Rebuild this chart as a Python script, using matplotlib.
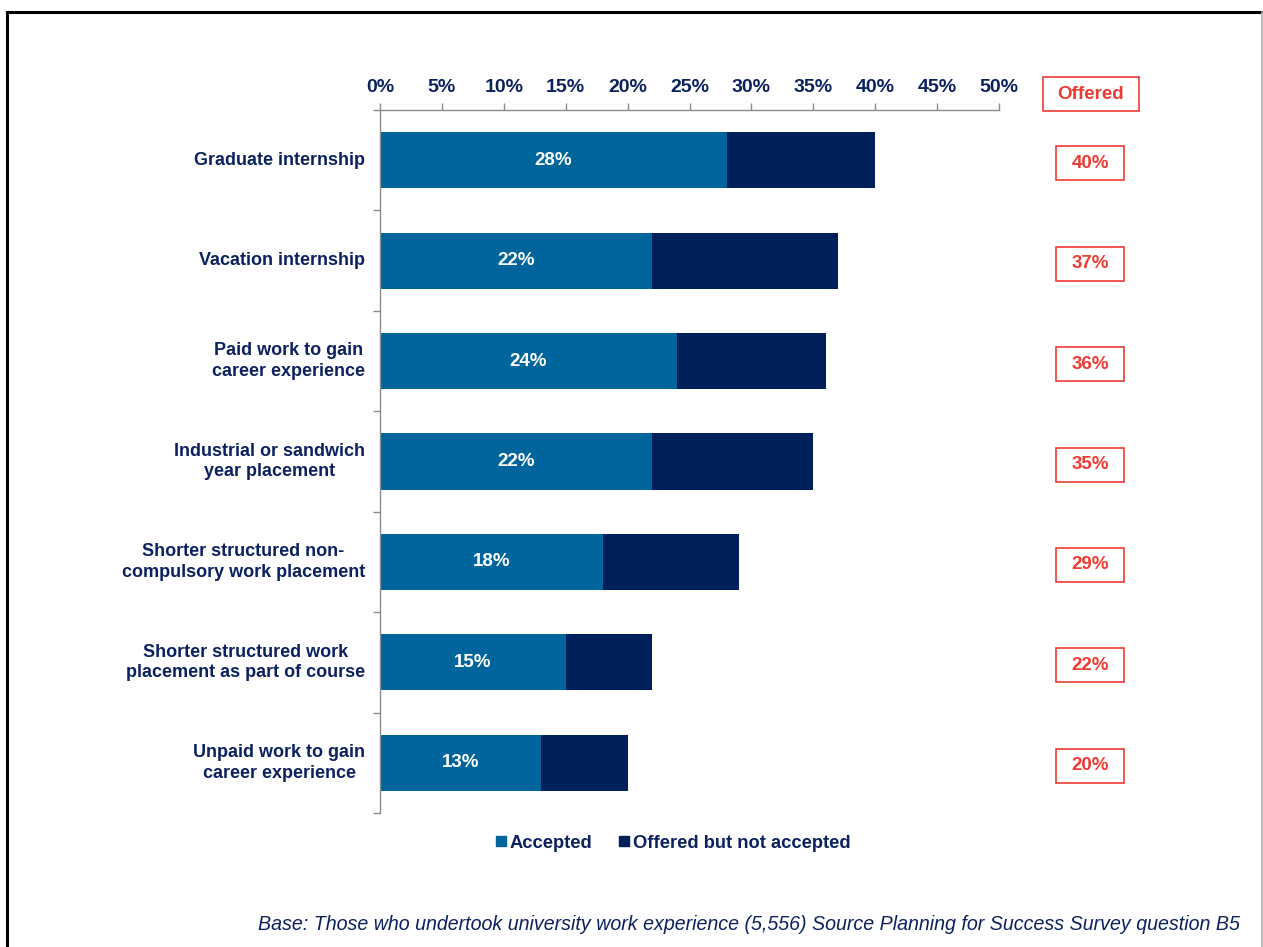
import matplotlib
matplotlib.use("Agg")
import matplotlib.pyplot as plt
from matplotlib.patches import Rectangle
from matplotlib.lines import Line2D

plt.rcParams['font.family'] = ['Liberation Sans', 'DejaVu Sans']

categories = [
    "Graduate internship",
    "Vacation internship",
    "Paid work to gain\ncareer experience",
    "Industrial or sandwich\nyear placement",
    "Shorter structured non-\ncompulsory work placement",
    "Shorter structured work\nplacement as part of course",
    "Unpaid work to gain\ncareer experience",
]
accepted = [28, 22, 24, 22, 18, 15, 13]
offered = [40, 37, 36, 35, 29, 22, 20]
not_accepted = [o - a for o, a in zip(offered, accepted)]
xtick_values = [0, 5, 10, 15, 20, 25, 30, 35, 40, 45, 50]
xtick_labels = [f"{v}%" for v in xtick_values]

NAVY = "#0B2160"
C_ACC = "#00659C"
C_NOT = "#00205B"
RED = "#EE3B33"
GREY = "#8C8C8C"
FS = 13.5

W, H = 1263, 947
fig = plt.figure(figsize=(W / 100, H / 100), dpi=100)
ax = fig.add_axes([380 / W, 1 - 813 / H, (999 - 380) / W, (813 - 110) / H])

ypos = list(range(len(categories)))
ax.barh(ypos, accepted, height=0.56, color=C_ACC, label="Accepted")
ax.barh(ypos, not_accepted, left=accepted, height=0.56, color=C_NOT,
        label="Offered but not accepted")

ax.set_xlim(0, 50)
ax.set_ylim(len(categories) - 0.5, -0.5)

# x axis along the top
ax.xaxis.tick_top()
ax.set_xticks(xtick_values)
ax.set_xticklabels(xtick_labels, fontsize=14, fontweight="bold", color=NAVY)
ax.tick_params(axis="x", direction="out", length=5, width=1, color=GREY, pad=5)

# y axis: ticks at category boundaries, labels drawn as text
ax.set_yticks([i - 0.5 for i in range(len(categories) + 1)])
ax.set_yticklabels([])
ax.tick_params(axis="y", direction="out", length=5, width=1, color=GREY)

for s in ["right", "bottom"]:
    ax.spines[s].set_visible(False)
for s in ["left", "top"]:
    ax.spines[s].set_color(GREY)
    ax.spines[s].set_linewidth(1)

for i, cat in enumerate(categories):
    ax.text(-1.2, i, cat, ha="right", va="center", multialignment="center",
            fontsize=13, fontweight="bold", color=NAVY, linespacing=1.28)
    ax.text(accepted[i] / 2, i, f"{accepted[i]}%", ha="center", va="center",
            fontsize=FS, fontweight="bold", color="white")

# Offered column with boxed values
px_x = 50 / (999 - 380)
px_y = 7 / (813 - 110)
xc = (1090 - 380) * px_x
bw, bh = 68 * px_x, 34 * px_y
for i, v in enumerate(offered):
    yc = i + 3 * px_y
    ax.add_patch(Rectangle((xc - bw / 2, yc - bh / 2), bw, bh, fill=False,
                           edgecolor=RED, linewidth=1.2, clip_on=False))
    ax.text(xc, yc, f"{v}%", ha="center", va="center", fontsize=FS,
            fontweight="bold", color=RED, clip_on=False)

hw = 96 * px_x
yh = -0.5 - 16 * px_y
ax.add_patch(Rectangle(((1091 - 380) * px_x - hw / 2, yh - bh / 2), hw, bh,
                       fill=False, edgecolor=RED, linewidth=1.2, clip_on=False))
ax.text((1091 - 380) * px_x, yh, "Offered", ha="center", va="center",
        fontsize=FS, fontweight="bold", color=RED, clip_on=False)

# Legend below the chart
handles = [
    Line2D([], [], marker="s", linestyle="none", markersize=7,
           markerfacecolor=C_ACC, markeredgecolor=C_ACC, label="Accepted"),
    Line2D([], [], marker="s", linestyle="none", markersize=7,
           markerfacecolor=C_NOT, markeredgecolor=C_NOT,
           label="Offered but not accepted"),
]
leg = fig.legend(handles=handles, loc="center", bbox_to_anchor=(673 / W, 1 - 843 / H),
                 ncol=2, frameon=False, handlelength=0.6, handletextpad=0.15,
                 columnspacing=1.45, prop={"weight": "bold", "size": 13.2})
for t in leg.get_texts():
    t.set_color(NAVY)

fig.text(1240 / W, 1 - 924 / H,
         "Base: Those who undertook university work experience (5,556) "
         "Source Planning for Success Survey question B5",
         ha="right", va="center", fontsize=14.1, style="italic", color=NAVY)

# Frame around the figure
fig.add_artist(Line2D([7 / W, 7 / W], [0, 1 - 12 / H], color="black", linewidth=2.2,
                      transform=fig.transFigure))
fig.add_artist(Line2D([7 / W, 1262 / W], [1 - 12 / H, 1 - 12 / H], color="black",
                      linewidth=2.2, transform=fig.transFigure))
fig.add_artist(Line2D([1261.5 / W, 1261.5 / W], [0, 1 - 12 / H], color="#B0B0B0",
                      linewidth=1.2, transform=fig.transFigure))

fig.savefig("out.png", dpi=100, facecolor="white")
